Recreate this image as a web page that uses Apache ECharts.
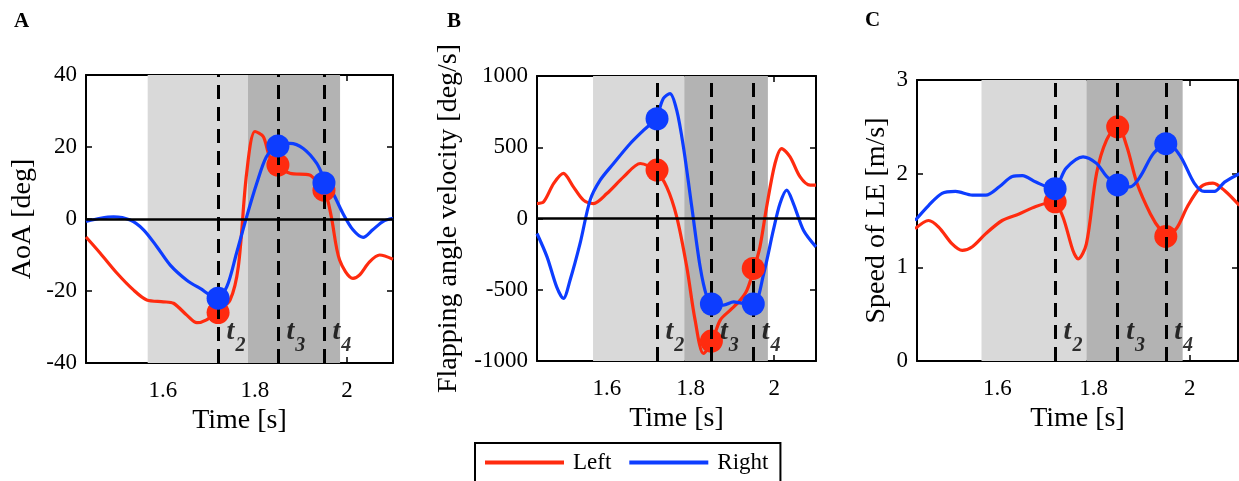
<!DOCTYPE html>
<html>
  <head>
    <meta charset="utf-8" />
    <title>Wing kinematics</title>
    <style>
      html, body { margin: 0; padding: 0; background: #fff; }
    </style>
  </head>
  <body>
    <script src="https://cdn.jsdelivr.net/npm/echarts@6/dist/echarts.min.js"></script>

    <div id="chart" style="width: 1239px; height: 481px"></div>

    <script>
      // event times and phases
      const tMarks = [1.72, 1.85, 1.95];
      const tNames = ['2', '3', '4'];
      const phaseLight = [1.567, 1.785];
      const phaseDark = [1.785, 1.985];
      const xTicks = [1.6, 1.8, 2.0];

      // A: angle of attack [deg]
      const aoaLeftT = [1.433, 1.464, 1.5, 1.536, 1.565, 1.601, 1.623, 1.652, 1.674, 1.695, 1.718, 1.746, 1.764, 1.782, 1.8, 1.818, 1.832, 1.849, 1.876, 1.919, 1.934, 1.952, 1.966, 1.984, 2.013, 2.027, 2.049, 2.071, 2.1];
      const aoaLeft = [-5, -9.5, -15, -19.7, -22.5, -23, -23.4, -26.7, -28.8, -28, -25.7, -22.5, -13.2, 12.7, 24.3, 22.9, 17.3, 14.8, 12.7, 12.2, 10.4, 7.8, 0.6, -11.4, -16.5, -15.6, -11.9, -10, -11.2];
      const aoaRightT = [1.433, 1.464, 1.493, 1.529, 1.558, 1.587, 1.616, 1.652, 1.681, 1.718, 1.739, 1.76, 1.782, 1.804, 1.825, 1.849, 1.876, 1.905, 1.934, 1.952, 1.97, 1.991, 2.013, 2.035, 2.056, 2.078, 2.1];
      const aoaRight = [-0.7, 0.2, 0.6, -0.3, -3, -7.7, -12.8, -17, -19.3, -22, -18.8, -9.5, 0.6, 9.9, 17.3, 20.4, 21, 19.6, 15.5, 10.8, 7.1, 1.6, -3, -5.1, -3, -0.7, 0.2];
      const aoaLeftMarks = [-26, 15, 8];
      const aoaRightMarks = [-22, 20.3, 10];

      // B: flapping angle velocity [deg/s]
      const velLeftT = [1.433, 1.449, 1.473, 1.496, 1.52, 1.544, 1.568, 1.6, 1.64, 1.68, 1.717, 1.743, 1.767, 1.791, 1.811, 1.831, 1.851, 1.871, 1.895, 1.919, 1.935, 1.952, 1.966, 1.982, 2.002, 2.018, 2.038, 2.062, 2.086, 2.1];
      const velLeft = [105, 117, 246, 316, 222, 129, 105, 175, 292, 386, 335, 222, 12, -339, -713, -947, -865, -713, -643, -573, -503, -351, -199, 82, 386, 491, 433, 292, 234, 234];
      const velRightT = [1.433, 1.457, 1.48, 1.496, 1.512, 1.536, 1.56, 1.584, 1.616, 1.656, 1.688, 1.717, 1.735, 1.751, 1.767, 1.783, 1.803, 1.823, 1.839, 1.851, 1.879, 1.903, 1.927, 1.952, 1.975, 1.998, 2.014, 2.03, 2.046, 2.07, 2.1];
      const velRight = [-105, -269, -480, -561, -433, -175, 129, 269, 386, 526, 620, 702, 842, 877, 760, 503, 82, -339, -550, -596, -608, -585, -596, -596, -386, -82, 105, 199, 105, -82, -199];
      const velLeftMarks = [340, -860, -350];
      const velRightMarks = [700, -600, -600];

      // C: speed of leading edge [m/s]
      const speedLeftT = [1.429, 1.457, 1.478, 1.506, 1.527, 1.548, 1.576, 1.61, 1.645, 1.68, 1.717, 1.736, 1.757, 1.768, 1.785, 1.806, 1.827, 1.85, 1.869, 1.89, 1.918, 1.939, 1.955, 1.974, 1.995, 2.023, 2.048, 2.072, 2.103];
      const speedLeft = [1.41, 1.5, 1.43, 1.25, 1.18, 1.22, 1.36, 1.5, 1.57, 1.65, 1.7, 1.54, 1.18, 1.09, 1.25, 2.0, 2.36, 2.51, 2.29, 1.9, 1.57, 1.4, 1.34, 1.43, 1.65, 1.86, 1.9, 1.82, 1.66];
      const speedRightT = [1.429, 1.457, 1.485, 1.513, 1.548, 1.576, 1.604, 1.631, 1.652, 1.68, 1.717, 1.743, 1.778, 1.806, 1.827, 1.85, 1.876, 1.897, 1.925, 1.955, 1.981, 2.009, 2.03, 2.051, 2.072, 2.103];
      const speedRight = [1.5, 1.66, 1.79, 1.81, 1.77, 1.77, 1.86, 1.97, 1.98, 1.91, 1.84, 2.06, 2.18, 2.11, 1.97, 1.88, 1.86, 1.97, 2.22, 2.32, 2.18, 1.9, 1.81, 1.81, 1.91, 2.0];
      const speedLeftMarks = [1.7, 2.5, 1.33];
      const speedRightMarks = [1.84, 1.88, 2.32];

      const RED = '#ff2b0f';
      const BLUE = '#0d3dff';
      const FONT = 'Liberation Serif';
      const X_MIN = 1.433;
      const X_MAX = 2.1;

      const zip = (xs, ys) => xs.map((x, i) => [x, ys[i]]);

      const panels = [
        {
          grid: { left: 86, top: 75, width: 307, height: 288 },
          yMin: -40, yMax: 40, yStep: 20, yName: 'AoA [deg]', yNameGap: 49,
          left: zip(aoaLeftT, aoaLeft), right: zip(aoaRightT, aoaRight),
          leftMarks: aoaLeftMarks, rightMarks: aoaRightMarks,
          zeroLine: true, labelY: -31.4,
        },
        {
          grid: { left: 537, top: 76, width: 279, height: 285 },
          yMin: -1000, yMax: 1000, yStep: 500, yName: 'Flapping angle velocity [deg/s]', yNameGap: 74,
          left: zip(velLeftT, velLeft), right: zip(velRightT, velRight),
          leftMarks: velLeftMarks, rightMarks: velRightMarks,
          zeroLine: true, labelY: -798,
        },
        {
          grid: { left: 917, top: 80, width: 321, height: 281 },
          yMin: 0, yMax: 3, yStep: 1, yName: 'Speed of LE [m/s]', yNameGap: 26,
          left: zip(speedLeftT, speedLeft), right: zip(speedRightT, speedRight),
          leftMarks: speedLeftMarks, rightMarks: speedRightMarks,
          zeroLine: false, labelY: 0.31,
        },
      ];

      const grids = [];
      const xAxes = [];
      const yAxes = [];
      const series = [];

      panels.forEach((p, gi) => {
        grids.push(Object.assign({ show: false }, p.grid));

        const tickStyle = { color: '#000', width: 1.5 };
        xAxes.push(
          {
            type: 'value', gridIndex: gi, min: X_MIN, max: X_MAX, position: 'bottom',
            name: 'Time [s]', nameLocation: 'middle', nameGap: 43,
            nameTextStyle: { fontFamily: FONT, fontSize: 28, color: '#000' },
            axisLine: { show: true, onZero: false, lineStyle: { color: '#000', width: 2 } },
            axisTick: { show: true, inside: true, length: 6, customValues: xTicks, lineStyle: tickStyle },
            axisLabel: {
              customValues: xTicks, margin: 16, fontFamily: FONT, fontSize: 23, color: '#000',
              formatter: (v) => String(+(+v).toFixed(1)),
            },
            splitLine: { show: false },
          },
          {
            type: 'value', gridIndex: gi, min: X_MIN, max: X_MAX, position: 'top',
            axisLine: { show: true, onZero: false, lineStyle: { color: '#000', width: 2 } },
            axisTick: { show: true, inside: true, length: 6, customValues: xTicks, lineStyle: tickStyle },
            axisLabel: { show: false },
            splitLine: { show: false },
          }
        );
        yAxes.push(
          {
            type: 'value', gridIndex: gi, min: p.yMin, max: p.yMax, interval: p.yStep, position: 'left',
            name: p.yName, nameLocation: 'middle', nameGap: p.yNameGap,
            nameTextStyle: { fontFamily: FONT, fontSize: 28, color: '#000' },
            axisLine: { show: true, onZero: false, lineStyle: { color: '#000', width: 2 } },
            axisTick: { show: true, inside: true, length: 6, lineStyle: tickStyle },
            axisLabel: { margin: 9, fontFamily: FONT, fontSize: 23, color: '#000', formatter: (v) => String(v) },
            splitLine: { show: false },
          },
          {
            type: 'value', gridIndex: gi, min: p.yMin, max: p.yMax, interval: p.yStep, position: 'right',
            axisLine: { show: true, onZero: false, lineStyle: { color: '#000', width: 2 } },
            axisTick: { show: true, inside: true, length: 6, lineStyle: tickStyle },
            axisLabel: { show: false },
            splitLine: { show: false },
          }
        );

        const xi = gi * 2;
        const yi = gi * 2;

        // shaded phases
        series.push({
          type: 'line', xAxisIndex: xi, yAxisIndex: yi, data: [], z: 1, silent: true,
          markArea: {
            silent: true,
            data: [
              [{ xAxis: phaseLight[0], itemStyle: { color: '#d9d9d9' } }, { xAxis: phaseLight[1] }],
              [{ xAxis: phaseDark[0], itemStyle: { color: '#b3b3b3' } }, { xAxis: phaseDark[1] }],
            ],
          },
        });

        // zero line
        if (p.zeroLine) {
          series.push({
            type: 'line', xAxisIndex: xi, yAxisIndex: yi, data: [], z: 2, silent: true,
            markLine: {
              silent: true, symbol: 'none', label: { show: false },
              lineStyle: { color: '#000', width: 2.5, type: 'solid' },
              data: [{ yAxis: 0 }],
            },
          });
        }

        series.push(
          {
            name: 'Left', type: 'line', xAxisIndex: xi, yAxisIndex: yi, z: 3,
            data: p.left, smooth: 0.3, showSymbol: false, color: RED,
            lineStyle: { color: RED, width: 3.2 },
          },
          {
            name: 'Right', type: 'line', xAxisIndex: xi, yAxisIndex: yi, z: 3,
            data: p.right, smooth: 0.3, showSymbol: false, color: BLUE,
            lineStyle: { color: BLUE, width: 3.2 },
          },
          {
            name: 'Left', type: 'scatter', xAxisIndex: xi, yAxisIndex: yi, z: 4,
            data: zip(tMarks, p.leftMarks), symbolSize: 23, itemStyle: { color: RED, opacity: 1 },
          },
          {
            name: 'Right', type: 'scatter', xAxisIndex: xi, yAxisIndex: yi, z: 5,
            data: zip(tMarks, p.rightMarks), symbolSize: 23, itemStyle: { color: BLUE, opacity: 1 },
          },
          {
            // dashed event lines sit on top of the markers
            type: 'line', xAxisIndex: xi, yAxisIndex: yi, data: [], z: 6, silent: true,
            markLine: {
              silent: true, symbol: 'none', label: { show: false },
              lineStyle: { color: '#000', width: 3, type: [14, 8] },
              data: tMarks.map((t) => ({ xAxis: t })),
            },
          },
          {
            type: 'scatter', xAxisIndex: xi, yAxisIndex: yi, z: 7, silent: true,
            data: tMarks.map((t, i) => [t, p.labelY, tNames[i]]),
            symbolSize: 1, itemStyle: { color: 'rgba(0,0,0,0)' },
            label: {
              show: true, position: 'right', distance: 8,
              formatter: (d) => '{t|t}{s|' + d.value[2] + '}',
              rich: {
                t: { fontFamily: FONT, fontSize: 28, fontStyle: 'italic', fontWeight: 'bold', color: '#000' },
                s: { fontFamily: FONT, fontSize: 20, fontStyle: 'italic', fontWeight: 'bold', color: '#000', padding: [28, 0, 0, 1] },
              },
            },
          }
        );
      });

      const chart = echarts.init(document.getElementById('chart'), null, { width: 1239, height: 481 });

      const letterStyle = { fontFamily: FONT, fontSize: 21, fontWeight: 'bold', color: '#000' };
      chart.setOption({
        animation: false,
        backgroundColor: '#fff',
        title: [
          { text: 'A', left: 14, top: 11, padding: 0, textStyle: letterStyle },
          { text: 'B', left: 447, top: 11, padding: 0, textStyle: letterStyle },
          { text: 'C', left: 865, top: 10, padding: 0, textStyle: letterStyle },
        ],
        legend: {
          data: ['Left', 'Right'], left: 475, top: 443, icon: 'rect',
          itemWidth: 79, itemHeight: 4, itemGap: 18,
          borderColor: '#000', borderWidth: 2, padding: [8, 12, 8, 10],
          textStyle: { fontFamily: FONT, fontSize: 23, color: '#000', padding: [0, 0, 0, 4] },
        },
        grid: grids,
        xAxis: xAxes,
        yAxis: yAxes,
        series: series,
      });
    </script>
  </body>
</html>
